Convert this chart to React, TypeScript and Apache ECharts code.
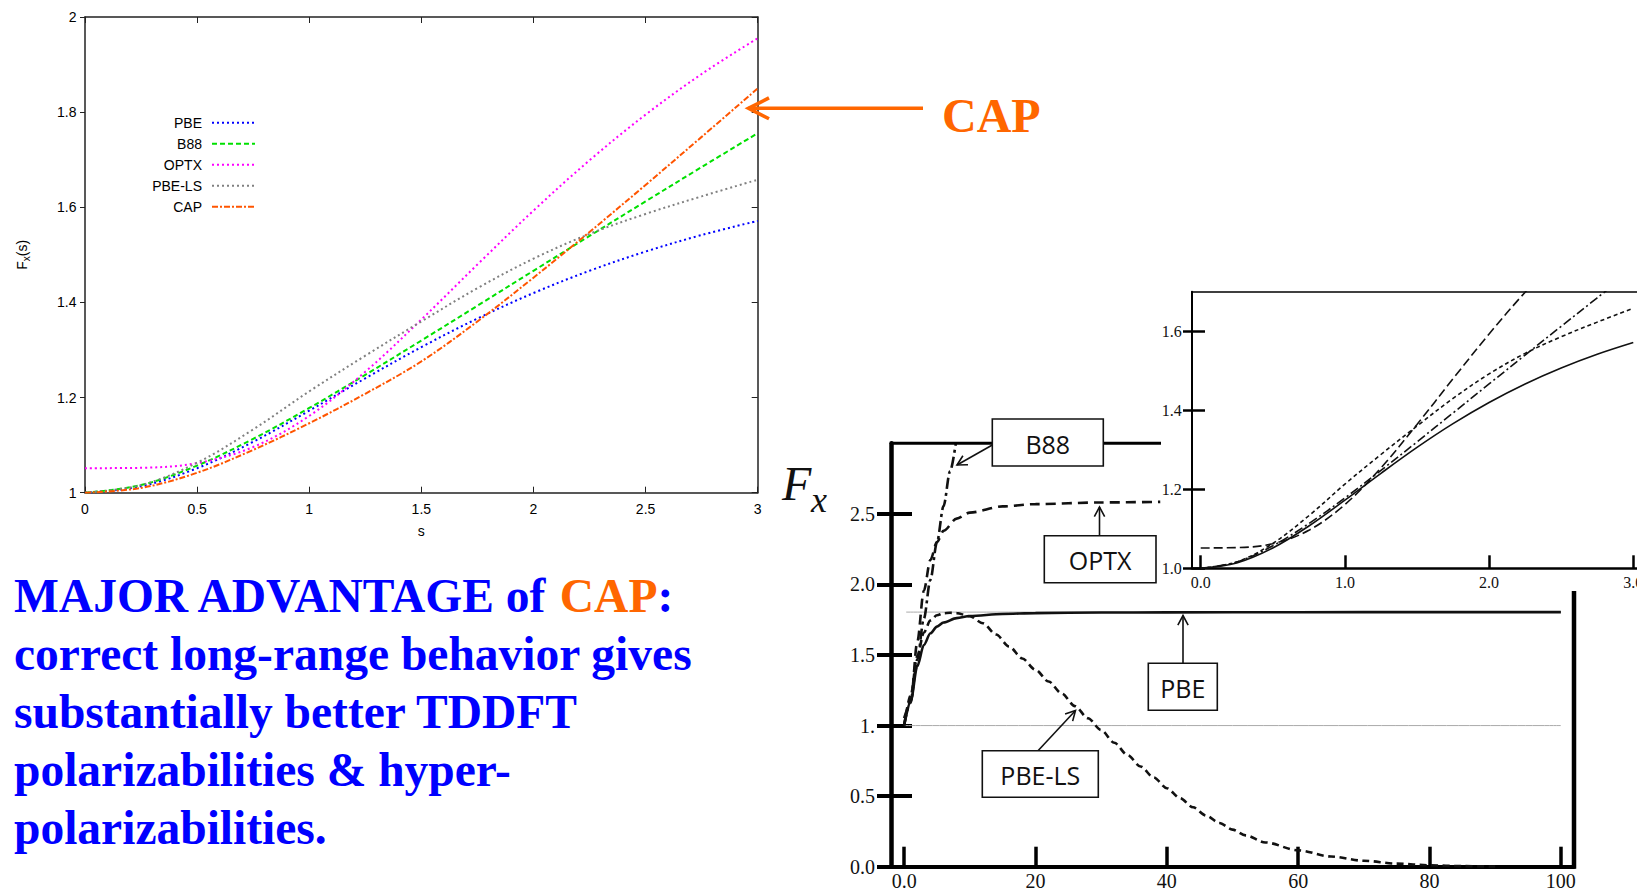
import React, { useEffect, useRef } from 'react';
import * as echarts from 'echarts';

// ---------- DATA ----------
// Top-left chart: enhancement factors F_x(s) for 0 <= s <= 3
const sMain = [0, 0.25, 0.5, 0.75, 1, 1.25, 1.5, 1.75, 2, 2.25, 2.5, 2.75, 3];
const pbeMain = [1.0, 1.0135, 1.0514, 1.107, 1.1724, 1.2404, 1.306, 1.3661, 1.4197, 1.4665, 1.5069, 1.5417, 1.5714];
const b88Main = [1.0, 1.016, 1.057, 1.1132, 1.1781, 1.2478, 1.3199, 1.3931, 1.4665, 1.5397, 1.6124, 1.6845, 1.7558];
const optxMain = [1.0515, 1.0523, 1.0622, 1.0961, 1.1614, 1.2542, 1.364, 1.4797, 1.593, 1.6988, 1.7947, 1.8801, 1.9554];
const pbelsMain = [1.0, 1.016, 1.063, 1.133, 1.213, 1.288, 1.36, 1.43, 1.492, 1.544, 1.586, 1.623, 1.658];
const capMain = [1.0, 1.01, 1.042, 1.09, 1.146, 1.208, 1.276, 1.36, 1.452, 1.548, 1.647, 1.748, 1.85];
const mainNames = ['PBE', 'B88', 'OPTX', 'PBE-LS', 'CAP'];
const mainXTicks = { min: 0, max: 3, step: 0.5 };
const mainYTicks = { min: 1, max: 2, step: 0.2 };

// Bottom-right chart: large-s behaviour, 0 <= s <= 100
const sPbeLarge = [0, 1, 2, 3, 4, 5, 6, 8, 10, 15, 20, 30, 40, 60, 80, 100];
const pbeLarge = [1.0, 1.172, 1.42, 1.571, 1.654, 1.701, 1.73, 1.761, 1.776, 1.791, 1.797, 1.801, 1.802, 1.803, 1.804, 1.804];
const sB88Large = [0, 1, 2, 3, 4, 5, 6, 7, 8];
const b88Large = [1.0, 1.178, 1.467, 1.756, 2.033, 2.299, 2.555, 2.803, 3.045];
const sOptxLarge = [0, 1, 2, 3, 4, 5, 6, 8, 10, 15, 20, 30, 39];
const optxLarge = [1.052, 1.161, 1.593, 1.955, 2.173, 2.301, 2.38, 2.466, 2.509, 2.553, 2.569, 2.581, 2.585];
const sLsLarge = [0, 1, 2, 3, 4, 5, 6, 7, 8, 10, 12, 14, 16, 18, 20, 22, 24, 26, 28, 30, 32, 34, 36, 38, 40, 42, 44, 46, 48, 50, 52, 55, 60, 65, 70, 75, 80, 85, 90];
const pbelsLarge = [1.0, 1.213, 1.492, 1.658, 1.745, 1.782, 1.796, 1.799, 1.797, 1.775, 1.725, 1.645, 1.56, 1.475, 1.395, 1.312, 1.227, 1.138, 1.052, 0.968, 0.878, 0.792, 0.71, 0.632, 0.556, 0.486, 0.421, 0.362, 0.31, 0.263, 0.222, 0.172, 0.116, 0.072, 0.042, 0.022, 0.01, 0.004, 0.001];
const refS = [0, 100];
const unitRef = [1, 1];
const refLimitS = [0.3, 100];
const pbeLimitRef = [1.804, 1.804];
const bigXTicks = [0, 20, 40, 60, 80, 100];
const bigYTicks = [0, 0.5, 1, 1.5, 2, 2.5];

// Inset chart ticks (inset reuses the 0..3 arrays above)
const insetXTicks = [0, 1, 2, 3];
const insetYTicks = [1.0, 1.2, 1.4, 1.6];

// Text
const paragraphLines = [
  'correct long-range behavior gives',
  'substantially better TDDFT',
  'polarizabilities & hyper-',
  'polarizabilities.',
];

// ---------- helpers ----------
const pairs = (xs: number[], ys: number[]) => xs.map((x, i) => [x, ys[i]]);

function arrow(x1: number, y1: number, x2: number, y2: number, color: string, width: number, headLen: number, angDeg: number) {
  const dx = x1 - x2;
  const dy = y1 - y2;
  const len = Math.sqrt(dx * dx + dy * dy);
  const ux = dx / len;
  const uy = dy / len;
  const a = (angDeg * Math.PI) / 180;
  const c = Math.cos(a);
  const s = Math.sin(a);
  const p1 = [x2 + headLen * (ux * c - uy * s), y2 + headLen * (ux * s + uy * c)];
  const p2 = [x2 + headLen * (ux * c + uy * s), y2 + headLen * (-ux * s + uy * c)];
  return [
    { type: 'line', z: 90, shape: { x1, y1, x2, y2 }, style: { stroke: color, lineWidth: width } },
    { type: 'polyline', z: 90, shape: { points: [p1, [x2, y2], p2] }, style: { stroke: color, lineWidth: width, fill: null, lineJoin: 'miter' } },
  ];
}

function box(x: number, y: number, w: number, h: number, label: string) {
  return [
    { type: 'rect', z: 95, shape: { x, y, width: w, height: h }, style: { fill: '#ffffff', stroke: '#111', lineWidth: 1.6 } },
    {
      type: 'text', z: 96, x: x + w / 2, y: y + h / 2 + 1,
      style: { text: label, font: '25px "Open Sans"', fill: '#111', align: 'center', verticalAlign: 'middle', textAlign: 'center', textVerticalAlign: 'middle' },
    },
  ];
}

function buildOption() {
  const sans = 'Liberation Sans';
  const serif = 'Liberation Serif';
  const mainColors = ['#0000ff', '#00e000', '#ff00ff', '#808080', '#ff5500'];
  const mainDash: any[] = [[2, 3], [5, 3], [2, 3], [2, 3], [6, 2, 2, 2]];
  const mainData = [pbeMain, b88Main, optxMain, pbelsMain, capMain];

  const mainSeries = mainNames.map((name, i) => ({
    type: 'line', name, xAxisIndex: 0, yAxisIndex: 0,
    data: pairs(sMain, mainData[i]),
    symbol: 'none', showSymbol: false, smooth: 0.35, silent: true, z: 3,
    lineStyle: { color: mainColors[i], width: 2, type: mainDash[i] },
    itemStyle: { color: mainColors[i] },
  }));

  const blk = '#111';
  const bigSeries = [
    { name: 'Fx = 1 (large s)', data: pairs(refS, unitRef), lineStyle: { color: '#aaaaaa', width: 1 }, z: 1 },
    { name: 'Fx = 1.804 (large s)', data: pairs(refLimitS, pbeLimitRef), lineStyle: { color: '#aaaaaa', width: 1 }, z: 1 },
    { name: 'PBE (large s)', data: pairs(sPbeLarge, pbeLarge), lineStyle: { color: blk, width: 2.6, type: 'solid' }, z: 3 },
    { name: 'B88 (large s)', data: pairs(sB88Large, b88Large), lineStyle: { color: blk, width: 2.6, type: [11, 4, 3, 4] }, z: 3 },
    { name: 'OPTX (large s)', data: pairs(sOptxLarge, optxLarge), lineStyle: { color: blk, width: 2.6, type: [10, 6] }, z: 3 },
    { name: 'PBE-LS (large s)', data: pairs(sLsLarge, pbelsLarge), lineStyle: { color: blk, width: 2.6, type: [7, 4.5] }, z: 3 },
  ].map((s) => ({ type: 'line', xAxisIndex: 2, yAxisIndex: 2, symbol: 'none', showSymbol: false, smooth: 0.3, smoothMonotone: 'x', silent: true, ...s }));

  const insetSeries = [
    { name: 'PBE (inset)', data: pairs(sMain, pbeMain), lineStyle: { color: blk, width: 1.6, type: 'solid' } },
    { name: 'B88 (inset)', data: pairs(sMain, b88Main), lineStyle: { color: blk, width: 1.6, type: [9, 3, 2, 3] } },
    { name: 'OPTX (inset)', data: pairs(sMain, optxMain), lineStyle: { color: blk, width: 1.6, type: [9, 4] } },
    { name: 'PBE-LS (inset)', data: pairs(sMain, pbelsMain), lineStyle: { color: blk, width: 1.6, type: [4, 3] } },
  ].map((s) => ({ type: 'line', xAxisIndex: 3, yAxisIndex: 4, symbol: 'none', showSymbol: false, smooth: 0.35, silent: true, z: 3, ...s }));

  const frame = '#222';
  const noSplit = { show: false };

  const xAxis: any[] = [
    {
      type: 'value', gridIndex: 0, position: 'bottom', min: mainXTicks.min, max: mainXTicks.max, interval: mainXTicks.step,
      axisLine: { onZero: false, lineStyle: { color: frame, width: 1.5 } },
      axisTick: { inside: true, length: 6, lineStyle: { color: frame, width: 1 } },
      axisLabel: { margin: 9, fontSize: 14, fontFamily: sans, color: '#000' },
      splitLine: noSplit,
      name: 's', nameLocation: 'middle', nameGap: 31.6,
      nameTextStyle: { fontSize: 14, fontFamily: sans, color: '#000' },
    },
    {
      type: 'value', gridIndex: 0, position: 'top', min: mainXTicks.min, max: mainXTicks.max, interval: mainXTicks.step,
      axisLine: { onZero: false, lineStyle: { color: frame, width: 1.5 } },
      axisTick: { inside: true, length: 6, lineStyle: { color: frame, width: 1 } },
      axisLabel: { show: false }, splitLine: noSplit,
    },
    {
      type: 'value', gridIndex: 1, position: 'bottom', min: -2, max: 102,
      axisLine: { onZero: false, lineStyle: { color: '#000', width: 4 } },
      axisTick: { customValues: bigXTicks, inside: true, length: 20, lineStyle: { color: '#000', width: 3.5 } },
      axisLabel: {
        customValues: bigXTicks, margin: 4, fontSize: 20, fontFamily: serif, color: '#111',
        formatter: (v: number) => (v === 0 ? '0.0' : String(v)),
      },
      splitLine: noSplit,
    },
    {
      type: 'value', gridIndex: 2, position: 'bottom', min: -0.0625, max: 3.125,
      axisLine: { onZero: false, lineStyle: { color: '#000', width: 2.5 } },
      axisTick: { customValues: insetXTicks, inside: true, length: 13, lineStyle: { color: '#000', width: 2.5 } },
      axisLabel: {
        customValues: insetXTicks, margin: 6, fontSize: 16, fontFamily: serif, color: '#111',
        formatter: (v: number) => v.toFixed(1),
      },
      splitLine: noSplit,
    },
    {
      type: 'value', gridIndex: 2, position: 'top', min: -0.0625, max: 3.125,
      axisLine: { onZero: false, lineStyle: { color: '#000', width: 1.5 } },
      axisTick: { show: false }, axisLabel: { show: false }, splitLine: noSplit,
    },
  ];

  const yAxis: any[] = [
    {
      type: 'value', gridIndex: 0, position: 'left', min: mainYTicks.min, max: mainYTicks.max, interval: mainYTicks.step,
      axisLine: { onZero: false, lineStyle: { color: frame, width: 1.5 } },
      axisTick: { inside: false, length: 5, lineStyle: { color: frame, width: 1 } },
      axisLabel: { margin: 8.5, fontSize: 14, fontFamily: sans, color: '#000' },
      splitLine: noSplit,
      name: 'F{sub|x}(s)', nameLocation: 'middle', nameGap: 54,
      nameTextStyle: {
        fontSize: 14, fontFamily: sans, color: '#000',
        rich: { sub: { fontSize: 10, fontFamily: sans, color: '#000', padding: [8, 0, 0, 0] } },
      },
    },
    {
      type: 'value', gridIndex: 0, position: 'right', min: mainYTicks.min, max: mainYTicks.max, interval: mainYTicks.step,
      axisLine: { onZero: false, lineStyle: { color: frame, width: 1.5 } },
      axisTick: { inside: true, length: 6, lineStyle: { color: frame, width: 1 } },
      axisLabel: { show: false }, splitLine: noSplit,
    },
    {
      type: 'value', gridIndex: 1, position: 'left', min: 0, max: 3,
      axisLine: { onZero: false, lineStyle: { color: '#000', width: 4.5 } },
      axisTick: { customValues: bigYTicks, inside: false, length: 14, lineStyle: { color: '#000', width: 4 } },
      axisLabel: {
        customValues: bigYTicks, margin: 16, fontSize: 20, fontFamily: serif, color: '#111',
        formatter: (v: number) => (v === 1 ? '1.' : v.toFixed(1)),
      },
      splitLine: noSplit,
    },
    {
      type: 'value', gridIndex: 1, position: 'left', min: 0, max: 3,
      axisLine: { show: false, onZero: false },
      axisTick: { customValues: bigYTicks, inside: true, length: 21, lineStyle: { color: '#000', width: 4 } },
      axisLabel: { show: false }, splitLine: noSplit,
    },
    {
      type: 'value', gridIndex: 2, position: 'left', min: 1, max: 1.7,
      axisLine: { onZero: false, lineStyle: { color: '#000', width: 2 } },
      axisTick: { customValues: insetYTicks, inside: false, length: 8.7, lineStyle: { color: '#000', width: 2.5 } },
      axisLabel: {
        customValues: insetYTicks, margin: 10, fontSize: 16, fontFamily: serif, color: '#111',
        formatter: (v: number) => v.toFixed(1),
      },
      splitLine: noSplit,
    },
    {
      type: 'value', gridIndex: 2, position: 'left', min: 1, max: 1.7,
      axisLine: { show: false, onZero: false },
      axisTick: { customValues: insetYTicks, inside: true, length: 13.3, lineStyle: { color: '#000', width: 2.5 } },
      axisLabel: { show: false }, splitLine: noSplit,
    },
  ];

  const paraFont = 'bold 47.5px "Liberation Serif"';
  const blue = '#0000ff';
  const orange = '#ff6600';
  const baseline0 = 611.7;
  const lineStep = 58.2;
  const mid = (b: number) => b - 16.1;

  const graphics: any[] = [
    // CAP call-out
    ...arrow(923, 108.3, 748.5, 108.3, orange, 3.6, 23, 27),
    {
      type: 'text', z: 100, x: 942, y: mid(131.7),
      style: { text: 'CAP', font: 'bold 48px "Liberation Serif"', fill: orange, align: 'left', verticalAlign: 'middle', textAlign: 'left', textVerticalAlign: 'middle' },
    },
    // paragraph
    {
      type: 'text', z: 100, x: 14, y: mid(baseline0),
      style: {
        text: '{b|MAJOR ADVANTAGE of }{o|CAP}{b|:}',
        font: paraFont, fill: blue, align: 'left', verticalAlign: 'middle', textAlign: 'left', textVerticalAlign: 'middle',
        rich: { b: { font: paraFont, fill: blue }, o: { font: paraFont, fill: orange } },
      },
    },
    ...paragraphLines.map((t, i) => ({
      type: 'text', z: 100, x: 14, y: mid(baseline0 + lineStep * (i + 1)),
      style: { text: t, font: paraFont, fill: blue, align: 'left', verticalAlign: 'middle', textAlign: 'left', textVerticalAlign: 'middle' },
    })),
    // large-s chart: partial top and right frame
    { type: 'line', z: 80, shape: { x1: 891, y1: 443.3, x2: 1161, y2: 443.3 }, style: { stroke: '#000', lineWidth: 3 } },
    { type: 'line', z: 80, shape: { x1: 1574, y1: 591, x2: 1574, y2: 868.7 }, style: { stroke: '#000', lineWidth: 4.5 } },
    // F_x label
    {
      type: 'text', z: 100, x: 782, y: 499.3 - 16.2,
      style: { text: 'F', font: 'italic 48px "Liberation Serif"', fill: '#111', align: 'left', verticalAlign: 'middle', textAlign: 'left', textVerticalAlign: 'middle' },
    },
    {
      type: 'text', z: 100, x: 811, y: 511.7 - 12.2,
      style: { text: 'x', font: 'italic 36px "Liberation Serif"', fill: '#111', align: 'left', verticalAlign: 'middle', textAlign: 'left', textVerticalAlign: 'middle' },
    },
    // boxes and arrows
    ...arrow(992.3, 445, 957, 465, '#111', 1.6, 11, 28),
    ...box(992.3, 419, 111, 47, 'B88'),
    ...arrow(1099.5, 535.7, 1099.5, 507, '#111', 1.6, 11, 28),
    ...box(1044.3, 535.7, 111.7, 47, 'OPTX'),
    ...arrow(1183, 663.3, 1183, 615.5, '#111', 1.6, 11, 28),
    ...box(1148.3, 663.3, 69, 47, 'PBE'),
    ...arrow(1038, 750.7, 1075.5, 710.5, '#111', 1.6, 11, 28),
    ...box(982.3, 750.7, 116, 46.6, 'PBE-LS'),
  ];

  return {
    animation: false,
    backgroundColor: '#ffffff',
    grid: [
      { left: 85, top: 17, width: 672.7, height: 475.7, containLabel: false, outerBoundsMode: 'none' },
      { left: 891, top: 443.3, width: 683, height: 423.4, containLabel: false, outerBoundsMode: 'none' },
      { left: 1191.7, top: 291.7, width: 459.6, height: 276.6, containLabel: false, outerBoundsMode: 'none' },
    ],
    legend: {
      data: mainNames, orient: 'vertical', left: 152.2, top: 115.7, padding: 0, itemGap: 7,
      itemWidth: 43, itemHeight: 14, align: 'right', selectedMode: false,
      textStyle: { fontSize: 14, fontFamily: sans, color: '#000', lineHeight: 14, padding: [0, 5, 0, 0] },
      itemStyle: { opacity: 0 },
      lineStyle: { width: 2 },
    },
    xAxis,
    yAxis,
    series: [...mainSeries, ...bigSeries, ...insetSeries],
    graphic: { elements: graphics },
  };
}

export default function App() {
  const ref = useRef<HTMLDivElement>(null);
  useEffect(() => {
    if (!ref.current) return;
    const chart = echarts.init(ref.current, null, { renderer: 'svg' });
    chart.setOption(buildOption() as any);
    return () => {
      chart.dispose();
    };
  }, []);
  return (
    <div
      ref={ref}
      style={{ position: 'fixed', left: 0, top: 0, width: 1637, height: 891, background: '#ffffff' }}
    />
  );
}
